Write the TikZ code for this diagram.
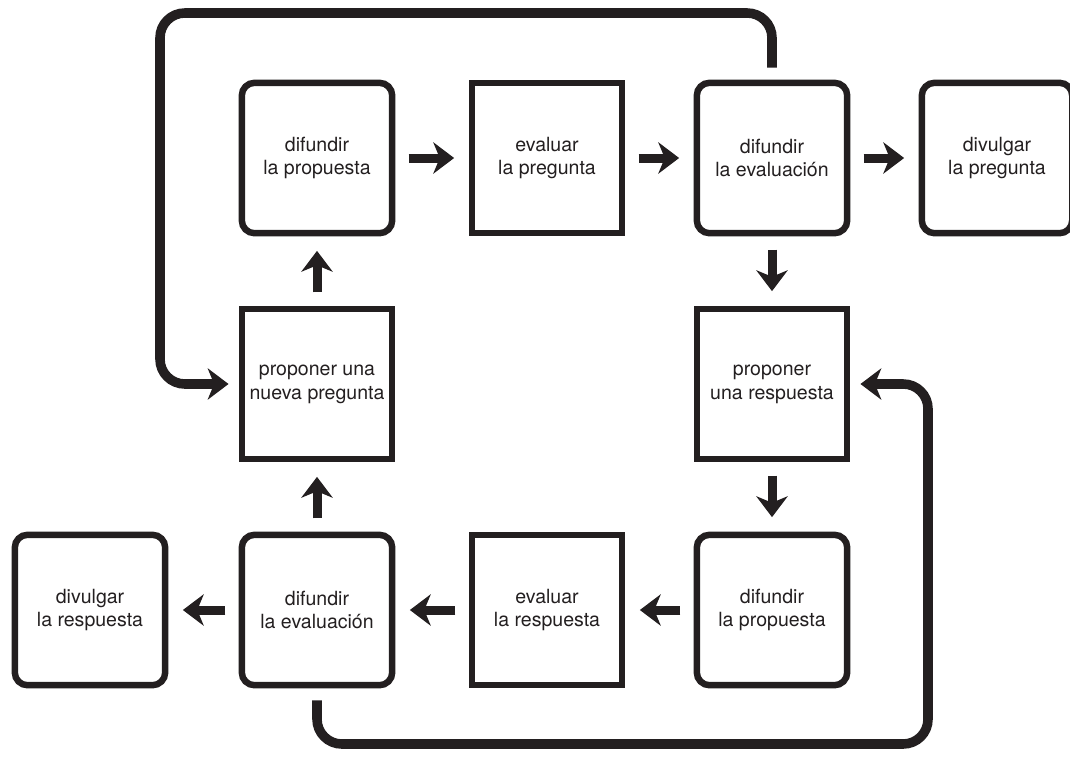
\documentclass[tikz,border=0pt]{standalone}
\usepackage{fontspec}
\setmainfont{TeX Gyre Heros}
\usetikzlibrary{arrows.meta}
\definecolor{tinta}{HTML}{231F20}

\tikzset{
  paso/.style={draw=tinta, line width=4.6pt, rounded corners=0.32cm,
    minimum width=3.76cm, minimum height=3.76cm, align=center,
    text=tinta, font=\fontsize{13.9}{17}\selectfont},
  tarea/.style={paso, rounded corners=0pt},
  flecha/.style={draw=tinta, line width=6.4pt,
    -{Stealth[length=0.52cm, width=0.78cm, inset=0.16cm]},
    shorten <=0.33cm, shorten >=0.36cm},
  vuelta/.style={flecha, line width=6.8pt, rounded corners=0.62cm,
    shorten <=0.3cm, shorten >=0.25cm}
}

\begin{document}
\begin{tikzpicture}[x=0.025cm, y=-0.025cm]
    \useasboundingbox (0,0) rectangle (1070,757);

    % fila de arriba
    \node[paso]  (dprop1)  at (317,158) {difundir\\la propuesta};
    \node[tarea] (evpreg)  at (547,158) {evaluar\\la pregunta};
    \node[paso]  (deval1)  at (772,158) {difundir\\la evaluación};
    \node[paso]  (divpreg) at (997,158) {divulgar\\la pregunta};

    % fila del medio
    \node[tarea] (nuevapreg) at (317,384) {proponer una\\nueva pregunta};
    \node[tarea] (propresp)  at (772,384) {proponer\\una respuesta};

    % fila de abajo
    \node[paso]  (divresp) at (90,610)  {divulgar\\la respuesta};
    \node[paso]  (deval2)  at (317,610) {difundir\\la evaluación};
    \node[tarea] (evresp)  at (547,610) {evaluar\\la respuesta};
    \node[paso]  (dprop2)  at (772,610) {difundir\\la propuesta};

    \coordinate (arriba) at (160,13);
    \coordinate (abajo)  at (928,744);

    \draw[flecha] (dprop1) -- (evpreg);
    \draw[flecha] (evpreg) -- (deval1);
    \draw[flecha] (deval1) -- (divpreg);
    \draw[flecha] (deval1) -- (propresp);
    \draw[flecha] (propresp) -- (dprop2);
    \draw[flecha] (dprop2) -- (evresp);
    \draw[flecha] (evresp) -- (deval2);
    \draw[flecha] (deval2) -- (divresp);
    \draw[flecha] (deval2) -- (nuevapreg);
    \draw[flecha] (nuevapreg) -- (dprop1);

    % las dos vueltas
    \draw[vuelta] (deval1.north) |- (arriba) |- (nuevapreg.west);
    \draw[vuelta] (deval2.south) |- (abajo) |- (propresp.east);

\end{tikzpicture}
\end{document}
